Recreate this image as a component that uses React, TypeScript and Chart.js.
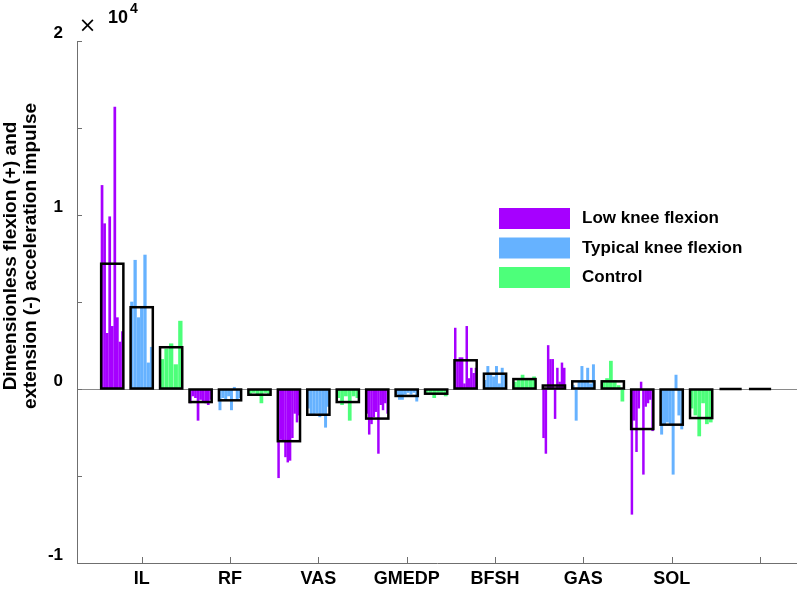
import React, { useEffect, useRef } from 'react';
import { Chart, registerables } from 'chart.js';

Chart.register(...registerables);

// ---------------- data (values in units of 10^4) ----------------
const categories = ['IL', 'RF', 'VAS', 'GMEDP', 'BFSH', 'GAS', 'SOL', ''];
const groupNames = ['Low knee flexion', 'Typical knee flexion', 'Control'];

const lowMean = [0.72, -0.075, -0.3, -0.17, 0.165, 0.02, -0.23, 0];
const typicalMean = [0.47, -0.065, -0.148, -0.04, 0.088, 0.044, -0.205, 0];
const controlMean = [0.24, -0.033, -0.075, -0.027, 0.057, 0.044, -0.167, null];

const lowSubjects = [
  [1.17, 0.95, 0.32, 0.99, 0.36, 1.62, 0.41, 0.27, 0.33],
  [-0.08, -0.04, -0.05, -0.18, -0.06, -0.07, -0.08, -0.09, -0.06],
  [-0.51, -0.29, -0.3, -0.39, -0.42, -0.41, -0.28, -0.14, -0.19, -0.15],
  [-0.14, -0.26, -0.2, -0.16, -0.13, -0.37, -0.09, -0.12, -0.08, -0.14],
  [0.35, 0.16, 0.18, 0.18, 0.03, 0.36, 0.06, 0.12, 0.09, 0.12],
  [-0.28, -0.37, 0.25, 0.17, 0.17, -0.17, 0.12, 0.04, 0.15, 0.12],
  [-0.72, -0.18, -0.36, -0.11, 0.04, -0.49, -0.1, -0.08, -0.06, -0.24],
  [],
];
const typicalSubjects = [
  [0.5, 0.74, 0.41, 0.47, 0.77, 0.15, 0.24],
  [-0.12, -0.05, -0.06, -0.04, -0.12, 0.01, -0.06, -0.05],
  [-0.11, -0.15, -0.15, -0.14, -0.16, -0.15, -0.22, -0.1],
  [-0.03, -0.06, -0.06, -0.03, -0.02, -0.03, -0.02, -0.07],
  [0.05, 0.13, 0.08, 0.07, 0.13, 0.03, 0.12, 0.09],
  [0.02, -0.18, 0.04, 0.13, 0.05, 0.12, 0.03, 0.14],
  [-0.26, -0.2, -0.19, -0.2, -0.49, 0.08, -0.15, -0.23],
  [],
];
const controlSubjects = [
  [0.17, 0.23, 0.26, 0.14, 0.39],
  [-0.03, -0.02, -0.03, -0.08, -0.02, -0.03],
  [-0.05, -0.09, -0.04, -0.18, -0.04, -0.05],
  [-0.02, -0.02, -0.05, -0.02, -0.02, -0.04],
  [0.04, 0.05, 0.08, 0.05, 0.06, 0.07],
  [0.05, 0.06, 0.16, 0.05, 0.02, -0.07],
  [-0.11, -0.15, -0.27, -0.08, -0.2, -0.19],
  [],
];

const yTickValues = [-1, -0.5, 0, 0.5, 1, 1.5, 2];
const yTickLabels = ['-1', '', '0', '', '1', '', '2'];

// ---------------- styles / layout ----------------
const groupColors = ['#A600FF', '#66B2FF', '#4DFF7A'];
const FONT = '"Liberation Sans", Arial, Helvetica, sans-serif';
const AXIS_COLOR = '#6f6f6f';
const ZERO_COLOR = '#8a8a8a';
const X_MIN = 0.2675;
const X_MAX = 8.4185;
const PLOT_LEFT = 77;
const PLOT_WIDTH = 797 - PLOT_LEFT;
const PX_PER_UNIT = PLOT_WIDTH / (X_MAX - X_MIN);
const GROUP_OFFSETS = [-1 / 3, 0, 1 / 3];
const BOX_PX = 22.2;
const SUBJ_SPAN = 23 / PX_PER_UNIT;

const groupMeans = [lowMean, typicalMean, controlMean];
const groupSubjects = [lowSubjects, typicalSubjects, controlSubjects];

function buildDatasets() {
  const ds: any[] = [];
  const meanPts: any[] = [];
  groupMeans.forEach((means, g) =>
    means.forEach((m, c) => {
      if (m !== null) meanPts.push({ x: c + 1 + GROUP_OFFSETS[g], y: m });
    })
  );
  ds.push({
    label: 'Mean',
    data: meanPts,
    backgroundColor: 'rgba(0,0,0,0)',
    borderWidth: 0,
    barThickness: BOX_PX,
    grouped: false,
    order: 0,
  });
  groupSubjects.forEach((subs, g) =>
    subs.forEach((vals, c) => {
      const n = vals.length;
      if (!n) return;
      const pitch = SUBJ_SPAN / n;
      ds.push({
        label: groupNames[g] + ' ' + categories[c],
        data: vals.map((v, j) => ({
          x: c + 1 + GROUP_OFFSETS[g] + (j - (n - 1) / 2) * pitch,
          y: v,
        })),
        backgroundColor: groupColors[g],
        borderWidth: 0,
        barThickness: pitch * PX_PER_UNIT * 0.8,
        grouped: false,
        order: 1,
      });
    })
  );
  return ds;
}

const meanBoxPlugin = {
  id: 'meanBoxes',
  afterDatasetsDraw(chart: any) {
    const ctx = chart.ctx;
    const meta = chart.getDatasetMeta(0);
    ctx.save();
    ctx.strokeStyle = '#000';
    ctx.lineWidth = 2.5;
    meta.data.forEach((el: any) => {
      const p = el.getProps(['x', 'y', 'base', 'width'], true);
      const top = Math.min(p.y, p.base);
      const h = Math.abs(p.base - p.y);
      ctx.strokeRect(p.x - p.width / 2, top, p.width, h);
    });
    ctx.restore();
  },
};

const innerTicksPlugin = {
  id: 'innerTicks',
  afterDraw(chart: any) {
    const ctx = chart.ctx;
    const xs = chart.scales.x;
    const ys = chart.scales.y;
    const area = chart.chartArea;
    ctx.save();
    ctx.strokeStyle = AXIS_COLOR;
    ctx.lineWidth = 1;
    ctx.beginPath();
    ys.ticks.forEach((t: any) => {
      const y = Math.round(ys.getPixelForValue(t.value)) + 0.5;
      ctx.moveTo(area.left, y);
      ctx.lineTo(area.left + 5, y);
    });
    xs.ticks.forEach((t: any) => {
      const x = Math.round(xs.getPixelForValue(t.value)) + 0.5;
      ctx.moveTo(x, area.bottom);
      ctx.lineTo(x, area.bottom - 6);
    });
    ctx.stroke();
    ctx.restore();
  },
};

const annotationsPlugin = {
  id: 'annotations',
  afterDraw(chart: any) {
    const ctx = chart.ctx;
    const area = chart.chartArea;
    ctx.save();
    ctx.fillStyle = '#000';
    // y-axis title (two lines, rotated)
    ctx.font = 'bold 19px ' + FONT;
    ctx.textAlign = 'center';
    ctx.textBaseline = 'alphabetic';
    const titleLines = ['Dimensionless flexion (+) and', 'extension (-) acceleration impulse'];
    const baseX = [16, 36];
    titleLines.forEach((line, i) => {
      ctx.save();
      ctx.translate(baseX[i], 256);
      ctx.rotate(-Math.PI / 2);
      ctx.fillText(line, 0, 0);
      ctx.restore();
    });
    // exponent label
    ctx.textAlign = 'center';
    ctx.font = '21px "DejaVu Sans", ' + FONT;
    ctx.textBaseline = 'middle';
    ctx.fillText('\u00D7', area.left + 10.5, 27);
    ctx.textAlign = 'left';
    ctx.font = 'bold 18px ' + FONT;
    ctx.textBaseline = 'alphabetic';
    ctx.fillText('10', area.left + 31, 23);
    ctx.font = 'bold 14px ' + FONT;
    ctx.fillText('4', area.left + 53, 13);
    // legend
    const lx = 499;
    const ly = 208;
    groupNames.forEach((name, i) => {
      const y = ly + i * 29.5;
      ctx.fillStyle = groupColors[i];
      ctx.fillRect(lx, y, 71, 21);
      ctx.fillStyle = '#000';
      ctx.font = 'bold 17px ' + FONT;
      ctx.textBaseline = 'middle';
      ctx.fillText(name, 582, y + 10.5);
    });
    ctx.restore();
  },
};

export default function App() {
  const canvasRef = useRef<HTMLCanvasElement | null>(null);

  useEffect(() => {
    if (!canvasRef.current) return;
    const chart = new Chart(canvasRef.current, {
      type: 'bar',
      data: { datasets: buildDatasets() },
      options: {
        responsive: false,
        animation: false,
        layout: { padding: { top: 41, left: 0, right: 0, bottom: 0 } },
        plugins: {
          legend: { display: false },
          tooltip: { enabled: false },
        },
        scales: {
          x: {
            type: 'linear',
            min: X_MIN,
            max: X_MAX,
            offset: false,
            afterBuildTicks: (s: any) => {
              s.ticks = categories.map((_, i) => ({ value: i + 1 }));
            },
            afterFit: (s: any) => {
              s.height = 27;
            },
            ticks: {
              callback: (v: any) => categories[Math.round(v) - 1] ?? '',
              font: { family: FONT, size: 18, weight: 'bold' },
              color: '#000',
              padding: 5,
              maxRotation: 0,
              autoSkip: false,
            },
            grid: { display: false, drawTicks: false },
            border: { display: true, color: AXIS_COLOR, width: 1 },
          },
          y: {
            type: 'linear',
            min: -1,
            max: 2,
            afterBuildTicks: (s: any) => {
              s.ticks = yTickValues.map((v) => ({ value: v }));
            },
            afterFit: (s: any) => {
              s.width = PLOT_LEFT;
            },
            ticks: {
              callback: (v: any) => {
                const i = yTickValues.indexOf(v);
                return i >= 0 ? yTickLabels[i] : '';
              },
              font: { family: FONT, size: 17, weight: 'bold' },
              color: '#000',
              padding: 14,
              labelOffset: -8,
            },
            grid: {
              drawTicks: false,
              lineWidth: 1,
              color: (c: any) => (c.tick && c.tick.value === 0 ? ZERO_COLOR : 'rgba(0,0,0,0)'),
            },
            border: { display: true, color: AXIS_COLOR, width: 1 },
          },
        },
      } as any,
      plugins: [meanBoxPlugin, innerTicksPlugin, annotationsPlugin],
    });
    return () => chart.destroy();
  }, []);

  return (
    <div style={{ position: 'absolute', left: 0, top: 0, width: 797, height: 590 }}>
      <canvas ref={canvasRef} width={797} height={590} style={{ display: 'block' }} />
    </div>
  );
}
